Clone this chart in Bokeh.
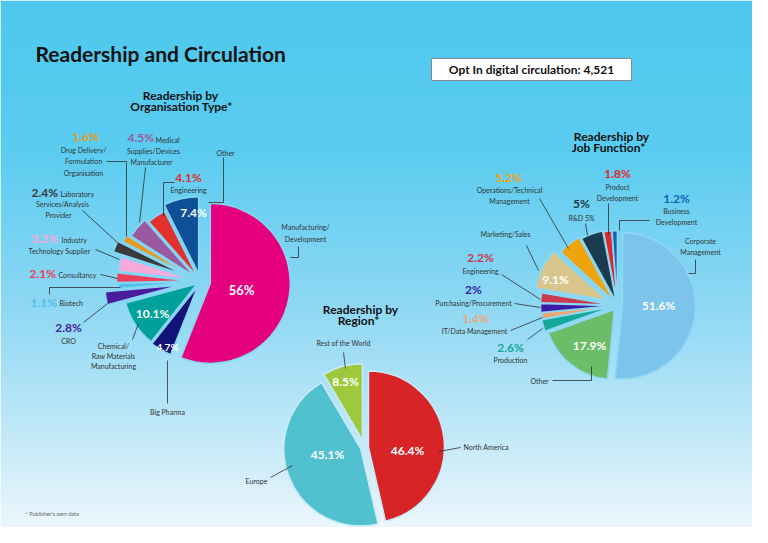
import numpy as np
from bokeh.plotting import figure
from bokeh.models import Range1d, ColumnDataSource
from bokeh.core.properties import value, field
from bokeh.embed import file_html
from bokeh.resources import INLINE

# ---------------- data ----------------
org_categories = ["Manufacturing/Development", "Big Pharma", "Chemical/Raw Materials Manufacturing",
                  "CRO", "Biotech", "Consultancy", "Industry Technology Supplier",
                  "Laboratory Services/Analysis Provider", "Drug Delivery/Formulation Organisation",
                  "Medical Supplies/Devices Manufacturer", "Engineering", "Other"]
org_values = [56, 4.7, 10.1, 2.8, 1.1, 2.1, 3.2, 2.4, 1.6, 4.5, 4.1, 7.4]

job_categories = ["Corporate Management", "Other", "Production", "IT/Data Management",
                  "Purchasing/Procurement", "Engineering", "Marketing/Sales",
                  "Operations/Technical Management", "R&D", "Product Development",
                  "Business Development"]
job_values = [51.6, 17.9, 2.6, 1.4, 2, 2.2, 9.1, 5.2, 5, 1.8, 1.2]

region_categories = ["North America", "Europe", "Rest of the World"]
region_values = [46.4, 45.1, 8.5]

circulation = 4521

# ---------------- styles ----------------
org_colors = ["#e5007d", "#12127a", "#00a19a", "#4a1c9e", "#4fc0ea", "#ee3e5c",
              "#f7a9d9", "#3a3a3a", "#e6991a", "#9a5aa0", "#e2302d", "#0e4f98"]
org_radius = [80, 74, 74, 76, 74, 74, 74, 75, 75, 75, 74, 77]
org_explode = [10, 5, 4, 20, 8, 10, 9, 17, 12, 8, 5, 8]

job_colors = ["#7cc4ec", "#6cbd67", "#13a89b", "#f4a56b", "#3b1ca5", "#c93a4c",
              "#d8c58c", "#f0a40c", "#1b3c4e", "#e0282c", "#1463b6"]
job_radius = [73, 70, 72, 72, 72, 72, 72, 72, 72, 72, 72]
job_explode = [5, 5, 5, 4, 5, 5, 12, 6, 4, 3, 3]

region_colors = ["#d92427", "#52c1cf", "#9ec93c"]
region_radius = [76, 77, 76]
region_explode = [4, 4, 8]

FONT = value("Lato")
TXT = "#333333"
DARK = "#111111"

FW, FH = 752, 527
# page-pixel layout: data x = page x, data y = -page y
p = figure(width=FW, height=FH, x_range=Range1d(0, FW), y_range=Range1d(-FH, 0),
           output_backend="svg", toolbar_location=None, min_border=0,
           x_axis_type=None, y_axis_type=None)
p.grid.visible = False
p.outline_line_color = None

# ---------------- background gradient ----------------
stops = [(0, (78, 200, 238)), (150, (90, 204, 240)), (300, (140, 215, 243)),
         (430, (192, 232, 248)), (543, (243, 249, 253))]


def bg_rgb(py):
    for (y0, c0), (y1, c1) in zip(stops[:-1], stops[1:]):
        if y0 <= py <= y1:
            t = (py - y0) / (y1 - y0)
            return [int(round(a + (b - a) * t)) for a, b in zip(c0, c1)]
    return list(stops[-1][1])


def bg(py):
    return "#%02x%02x%02x" % tuple(bg_rgb(py))


img = np.zeros((FH, 2), dtype=np.uint32)
view = img.view(dtype=np.uint8).reshape((FH, 2, 4))
for i in range(FH):
    r, g, b = bg_rgb(FH - i - 0.5)
    view[i, :, 0] = r
    view[i, :, 1] = g
    view[i, :, 2] = b
    view[i, :, 3] = 255
p.image_rgba(image=[img], x=0, y=-FH, dw=FW, dh=FH)


# ---------------- pies ----------------
def pie(cx, cy, values, colors, radii, explode):
    vals = np.array(values, float)
    frac = vals / vals.sum()
    cum = np.concatenate([[0], np.cumsum(frac)])
    start = np.pi / 2 - 2 * np.pi * cum[:-1]
    end = np.pi / 2 - 2 * np.pi * cum[1:]
    mid = (start + end) / 2
    ex = np.array(explode, float)
    src = ColumnDataSource(dict(x=cx + ex * np.cos(mid), y=-cy + ex * np.sin(mid),
                                r=radii, s=end, e=start, c=colors))
    p.wedge(x="x", y="y", radius="r", start_angle="s", end_angle="e",
            direction="anticlock", fill_color="c", line_color=bg(cy),
            line_width=1.5, source=src)


pie(200, 281, org_values, org_colors, org_radius, org_explode)
pie(617, 305, job_values, job_colors, job_radius, job_explode)
pie(364, 447, region_values, region_colors, region_radius, region_explode)

# ---------------- leader lines ----------------
leaders = [
    # organisation type
    [(106, 161), (126, 161), (126, 236)],
    [(145, 167), (139, 222)],
    [(174, 182), (163, 182), (163, 216)],
    [(223, 157), (223, 202), (208, 202)],
    [(82, 210), (118, 243)],
    [(95, 249), (119, 259)],
    [(100, 274), (117, 278)],
    [(49, 294), (49, 287), (120, 287)],
    [(83, 322), (107, 303)],
    [(138, 323), (132, 339)],
    [(167, 360), (167, 403)],
    [(298, 246), (298, 257), (290, 257)],
    # job function
    [(539, 198), (568, 248)],
    [(585, 223), (587, 235)],
    [(608, 203), (608, 234)],
    [(649, 220), (619, 220), (619, 230)],
    [(695, 259), (695, 273), (688, 273)],
    [(526, 245), (538, 270)],
    [(501, 274), (540, 299)],
    [(514, 303), (540, 307)],
    [(510, 330), (542, 317)],
    [(527, 339), (542, 328)],
    [(552, 380), (591, 380), (591, 366)],
    # region
    [(343, 352), (345, 368)],
    [(438, 451), (460, 447)],
    [(270, 477), (292, 465)],
]
p.multi_line(xs=[[a for a, b in L] for L in leaders], ys=[[-b for a, b in L] for L in leaders],
             line_color="#2f2f2f", line_width=0.8)

# Opt-in box
p.quad(left=[431], right=[631], top=[-58], bottom=[-80], fill_color="white",
       line_color="#8a8a8a", line_width=1)


# ---------------- texts ----------------
def fmt(v):
    return f"{v:g}%"


O, J, R = org_values, job_values, region_values
oc, jc, rc = org_colors, job_colors, region_colors
W = "#ffffff"
B, N = "bold", "normal"
C, L = "center", "left"

labels = [
    # titles
    (35, 53, "Readership and Circulation", DARK, 21, B, L),
    (531, 69, f"Opt In digital circulation: {circulation:,}", DARK, 12, B, C),
    (180, 95, "Readership by", DARK, 12, B, C),
    (181, 106, "Organisation Type*", DARK, 12, B, C),
    (611, 136, "Readership by", DARK, 12, B, C),
    (608, 147, "Job Function*", DARK, 12, B, C),
    (360, 309, "Readership by", DARK, 12, B, C),
    (358, 320, "Region*", DARK, 12, B, C),
    (25, 513, "* Publisher's own data", "#666666", 5.5, N, L),
    # organisation type
    (85, 136, fmt(O[8]), oc[8], 12, B, C),
    (83, 149, "Drug Delivery/", TXT, 7, N, C),
    (83, 160, "Formulation", TXT, 7, N, C),
    (83, 172, "Organisation", TXT, 7, N, C),
    (127, 137, fmt(O[9]), oc[9], 12, B, L),
    (155, 139, "Medical", TXT, 7, N, L),
    (153, 150, "Supplies/Devices", TXT, 7, N, C),
    (151, 161, "Manufacturer", TXT, 7, N, C),
    (225, 152, "Other", TXT, 7, N, C),
    (188, 177, fmt(O[10]), oc[10], 12, B, C),
    (188, 189, "Engineering", TXT, 7, N, C),
    (31, 192, fmt(O[7]), oc[7], 12, B, L),
    (60, 193, "Laboratory", TXT, 7, N, L),
    (62, 203, "Services/Analysis", TXT, 7, N, C),
    (58, 214, "Provider", TXT, 7, N, C),
    (31, 238, fmt(O[6]), oc[6], 12, B, L),
    (61, 239, "Industry", TXT, 7, N, L),
    (59, 250, "Technology Supplier", TXT, 7, N, C),
    (29, 273, fmt(O[5]), oc[5], 12, B, L),
    (58, 274, "Consultancy", TXT, 7, N, L),
    (30, 302, fmt(O[4]), oc[4], 12, B, L),
    (59, 302, "Biotech", TXT, 7, N, L),
    (68, 327, fmt(O[3]), oc[3], 12, B, C),
    (68, 340, "CRO", TXT, 7, N, C),
    (113, 345, "Chemical/", TXT, 7, N, C),
    (113, 355, "Raw Materials", TXT, 7, N, C),
    (113, 365, "Manufacturing", TXT, 7, N, C),
    (167, 411, "Big Pharma", TXT, 7, N, C),
    (305, 226, "Manufacturing/", TXT, 7, N, C),
    (305, 238, "Development", TXT, 7, N, C),
    (241, 289, fmt(O[0]), W, 13, B, C),
    (152, 313, fmt(O[2]), W, 12, B, C),
    (167, 346, fmt(O[1]), W, 10, B, C),
    (193, 212, fmt(O[11]), W, 12, B, C),
    # job function
    (508, 177, fmt(J[7]), jc[7], 12, B, C),
    (509, 189, "Operations/Technical", TXT, 7, N, C),
    (509, 200, "Management", TXT, 7, N, C),
    (581, 203, fmt(J[8]), jc[8], 12, B, C),
    (581, 217, "R&D " + fmt(J[8]), TXT, 7, N, C),
    (617, 173, fmt(J[9]), jc[9], 12, B, C),
    (617, 186, "Product", TXT, 7, N, C),
    (617, 197, "Development", TXT, 7, N, C),
    (676, 198, fmt(J[10]), jc[10], 12, B, C),
    (676, 210, "Business", TXT, 7, N, C),
    (676, 221, "Development", TXT, 7, N, C),
    (700, 240, "Corporate", TXT, 7, N, C),
    (700, 251, "Management", TXT, 7, N, C),
    (505, 233, "Marketing/Sales", TXT, 7, N, C),
    (480, 257, fmt(J[5]), jc[5], 12, B, C),
    (480, 270, "Engineering", TXT, 7, N, C),
    (473, 289, fmt(J[4]), jc[4], 12, B, C),
    (473, 302, "Purchasing/Procurement", TXT, 7, N, C),
    (475, 318, fmt(J[3]), jc[3], 12, B, C),
    (474, 330, "IT/Data Management", TXT, 7, N, C),
    (510, 347, fmt(J[2]), jc[2], 12, B, C),
    (510, 359, "Production", TXT, 7, N, C),
    (539, 380, "Other", TXT, 7, N, C),
    (555, 279, fmt(J[6]), W, 12, B, C),
    (658, 305, fmt(J[0]), W, 12, B, C),
    (589, 345, fmt(J[1]), W, 12, B, C),
    # region
    (343, 342, "Rest of the World", TXT, 7, N, C),
    (463, 446, "North America", TXT, 7, N, L),
    (256, 480, "Europe", TXT, 7, N, C),
    (345, 381, fmt(R[2]), W, 12, B, C),
    (407, 450, fmt(R[0]), W, 12, B, C),
    (327, 454, fmt(R[1]), W, 12, B, C),
]

groups = {}
for x, y, t, c, s, st, al in labels:
    g = groups.setdefault((st, al), dict(x=[], y=[], text=[], color=[], size=[]))
    g["x"].append(x)
    g["y"].append(-y)
    g["text"].append(t)
    g["color"].append(c)
    g["size"].append(f"{s}px")

for (st, al), d in groups.items():
    p.text(x="x", y="y", text="text", text_color="color", text_font_size=field("size"),
           text_font=FONT, text_font_style=st, text_align=al, text_baseline="middle",
           source=ColumnDataSource(d))

open("out.html", "w").write(file_html(p, INLINE))
